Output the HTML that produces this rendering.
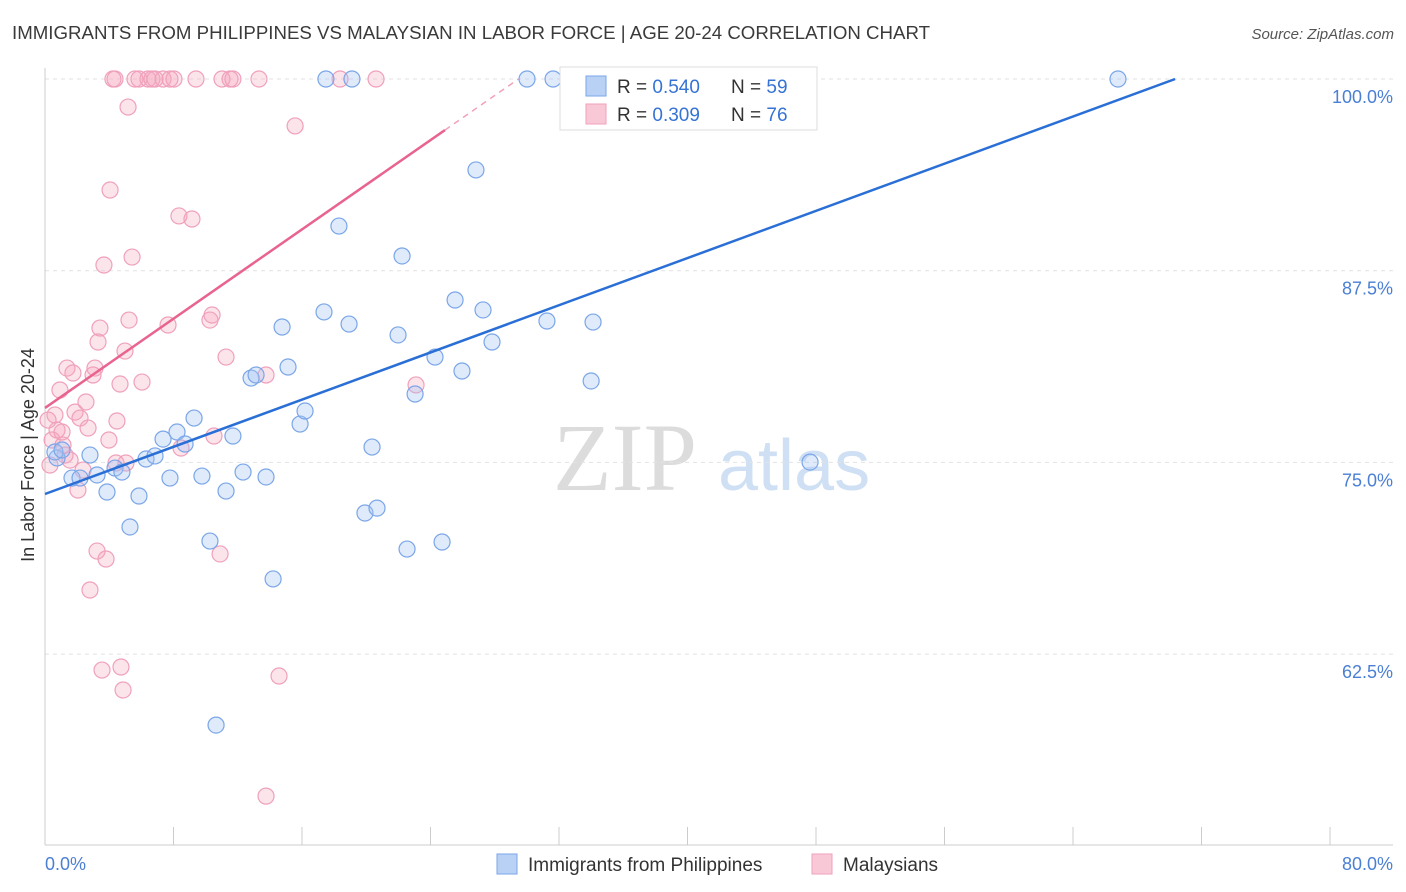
<!DOCTYPE html>
<html><head><meta charset="utf-8"><style>
body{margin:0;background:#fff;font-family:"Liberation Sans",sans-serif;}
#wrap{position:relative;width:1406px;height:892px;overflow:hidden;}
</style></head><body>
<div id="wrap">
<svg id="svg" width="1406" height="892" xmlns="http://www.w3.org/2000/svg">
<text x="12" y="39" font-size="18" fill="#3a3a3a" textLength="918" lengthAdjust="spacingAndGlyphs">IMMIGRANTS FROM PHILIPPINES VS MALAYSIAN IN LABOR FORCE | AGE 20-24 CORRELATION CHART</text>
<text x="1394" y="39" font-size="15" fill="#555" text-anchor="end" font-style="italic">Source: ZipAtlas.com</text>
<text x="553" y="490" font-size="96" fill="#dcdcdc" font-family="Liberation Serif">ZIP</text>
<text x="718" y="490" font-size="72" fill="#cfe0f4">atlas</text>
<text transform="translate(34,455) rotate(-90)" font-size="18" fill="#333" text-anchor="middle">In Labor Force | Age 20-24</text>
<g id="grid"></g><g id="marks"></g>
<text x="45" y="870" font-size="18" fill="#4a7fd4">0.0%</text>
<text x="1393" y="870" font-size="18" fill="#4a7fd4" text-anchor="end">80.0%</text>
<g>
<rect x="560" y="67" width="257" height="63" fill="#fff" stroke="#ddd"/>
<rect x="586" y="76" width="20" height="20" fill="#b9d1f4" stroke="#7aa6e8"/>
<rect x="586" y="104" width="20" height="20" fill="#f9c8d7" stroke="#f0a0bb"/>
<text x="617" y="93" font-size="19" fill="#333">R = <tspan fill="#3573d4">0.540</tspan></text>
<text x="731" y="93" font-size="19" fill="#333">N = <tspan fill="#3573d4">59</tspan></text>
<text x="617" y="121" font-size="19" fill="#333">R = <tspan fill="#3573d4">0.309</tspan></text>
<text x="731" y="121" font-size="19" fill="#333">N = <tspan fill="#3573d4">76</tspan></text>
</g>
<g>
<rect x="497" y="854" width="20" height="20" fill="#b9d1f4" stroke="#7aa6e8"/>
<text x="528" y="871" font-size="19" fill="#333">Immigrants from Philippines</text>
<rect x="812" y="854" width="20" height="20" fill="#f9c8d7" stroke="#f0a0bb"/>
<text x="843" y="871" font-size="19" fill="#333">Malaysians</text>
</g>
</svg>
</div>
<script>
const yTicks=[100,87.5,75,62.5];
const yTickLabels=["100.0%","87.5%","75.0%","62.5%"];
const blueX=[0.75,0.62,1.06,1.68,2.18,2.80,3.24,3.86,4.36,4.79,5.29,5.85,6.29,6.85,7.35,7.78,8.22,8.72,9.28,9.77,10.27,11.27,11.70,12.33,12.83,13.14,13.76,14.20,14.76,15.13,15.88,16.19,17.37,17.49,18.30,18.93,19.11,19.92,20.36,20.67,21.98,22.23,22.54,23.04,24.28,24.72,25.53,25.96,26.83,27.27,27.83,30.01,31.25,31.63,34.00,34.12,47.63,66.80,10.65];
const blueY=[75.29,75.68,75.81,73.98,73.98,75.48,74.18,73.07,74.63,74.37,70.79,72.81,75.22,75.42,76.52,73.98,76.98,76.20,77.89,74.11,69.87,73.13,76.72,74.37,80.50,80.70,74.05,67.4,83.83,81.22,77.5,78.35,84.81,100,90.41,84.02,100,71.7,76.0,72.02,83.31,88.46,69.35,79.46,81.87,69.81,85.59,80.96,94.07,84.94,82.85,100,84.22,100,80.31,84.15,75.02,100,57.87];
const pinkX=[0.31,0.44,0.62,0.75,0.93,1.12,1.37,1.56,1.74,1.87,2.05,2.18,2.37,2.55,2.68,2.99,3.11,3.24,3.30,3.42,3.55,3.67,3.80,3.98,4.05,4.23,4.36,4.42,4.48,4.67,4.73,4.86,4.98,5.04,5.17,5.23,5.42,5.60,5.85,6.04,6.41,6.66,6.85,7.35,7.66,7.78,8.03,8.34,8.47,9.15,9.40,10.27,10.40,10.52,10.90,11.02,11.27,11.52,11.70,13.32,13.76,13.76,14.57,15.57,18.37,20.61,23.10,2.80,0.19,1.06,1.25];
const pinkY=[74.83,76.46,78.09,77.11,79.72,76.13,81.15,75.15,80.83,78.28,73.20,77.89,74.50,78.94,77.24,80.70,81.15,69.22,82.85,83.76,61.46,87.87,68.7,76.46,92.76,100,100,74.96,77.7,80.11,61.66,60.16,82.26,74.96,98.17,84.28,88.39,100,100,80.24,100,100,100,100,83.96,100,100,91.07,75.94,90.87,100,84.28,84.61,76.72,69.03,100,81.87,100,100,100,80.70,53.24,61.07,96.94,100,100,80.05,66.68,77.76,76.98,75.48];
const blueTrend=[72.94,0.3846];
const pinkTrend=[78.55,0.7277];
const NS="http://www.w3.org/2000/svg";
const sx=v=>45+v/80*1285;
const sy=v=>79+(100-v)/12.5*191.7;
function mk(tag,attrs,parent){const e=document.createElementNS(NS,tag);for(const k in attrs)e.setAttribute(k,attrs[k]);parent.appendChild(e);return e;}
const grid=document.getElementById('grid'),marks=document.getElementById('marks');
yTicks.forEach((t,i)=>{
 const l=mk('line',{x1:45,x2:1393,y1:sy(t),y2:sy(t),stroke:'#e2e2e2','stroke-dasharray':'4,4'},grid);
 
 
 const tx=mk('text',{x:1393,y:sy(t)+24,'font-size':18,fill:'#4a7fd4','text-anchor':'end'},grid);
 tx.textContent=yTickLabels[i];
 
 
});
const ax=mk('line',{x1:45,x2:45,y1:68,y2:845,stroke:'#ccc'},grid);


const bx=mk('line',{x1:45,x2:1393,y1:845,y2:845,stroke:'#ccc'},grid);


for(let i=0;i<=10;i++){const t=mk('line',{x1:sx(i*8),x2:sx(i*8),y1:827,y2:845,stroke:'#ccc'},grid);
 
 }
function pts(X,Y,fill,stroke,name){X.forEach((x,i)=>{const c=mk('circle',{cx:sx(x),cy:sy(Y[i]),r:8,fill:fill,stroke:stroke,'stroke-width':1.2},marks);
 
 });}
pts(pinkX,pinkY,'rgba(244,164,190,0.3)','#f0a0bb','malaysians-point');
pts(blueX,blueY,'rgba(164,194,244,0.35)','#7aa6e8','philippines-point');
const bxEnd=(100-blueTrend[0])/blueTrend[1];
const bl=mk('line',{x1:sx(0),y1:sy(blueTrend[0]),x2:sx(bxEnd),y2:sy(100),stroke:'#2a6fd6','stroke-width':2.5},marks);


const pxEnd=(100-pinkTrend[0])/pinkTrend[1];
const pSolid=24.9;
const pl=mk('line',{x1:sx(0),y1:sy(pinkTrend[0]),x2:sx(pSolid),y2:sy(pinkTrend[0]+pinkTrend[1]*pSolid),stroke:'#e8648f','stroke-width':2.5},marks);


const pd=mk('line',{x1:sx(pSolid),y1:sy(pinkTrend[0]+pinkTrend[1]*pSolid),x2:sx(pxEnd),y2:sy(100),stroke:'#f0a0bb','stroke-width':1.5,'stroke-dasharray':'6,5'},marks);


</script>
</body></html>
